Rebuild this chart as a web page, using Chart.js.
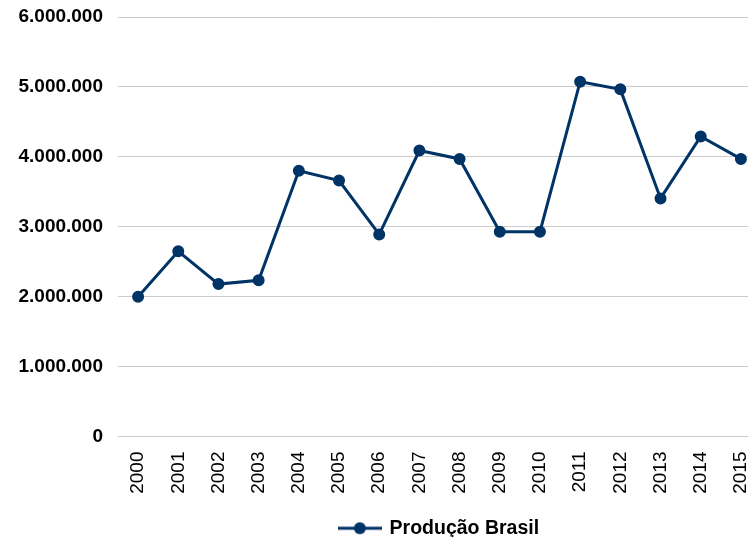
<!DOCTYPE html>
<html>
<head>
<meta charset="utf-8">
<script src="https://cdn.jsdelivr.net/npm/chart.js@4/dist/chart.umd.min.js"></script>
<style>
  html, body { margin: 0; padding: 0; background: #fff; overflow: hidden; width: 748px; height: 537px; }
  #wrap { position: absolute; left: 0; top: 0; width: 768px; height: 548px; }
</style>
</head>
<body>
<div id="wrap"><canvas id="c"></canvas></div>
<script>
const years = ['2000','2001','2002','2003','2004','2005','2006','2007','2008','2009','2010','2011','2012','2013','2014','2015'];
const producaoBrasil = [2000000, 2650000, 2180000, 2235000, 3800000, 3660000, 2890000, 4090000, 3970000, 2930000, 2930000, 5075000, 4965000, 3405000, 4290000, 3970000];
const seriesLabel = 'Produção Brasil';
const yTicks = [0, 1000000, 2000000, 3000000, 4000000, 5000000, 6000000];

const navy = '#003366';
const FONT = '"Liberation Sans", Arial, sans-serif';

function fmt(v) {
  return String(Math.round(v)).replace(/\B(?=(\d{3})+(?!\d))/g, '.');
}

// legend marker: line with a dot
const mk = document.createElement('canvas');
mk.width = 44; mk.height = 14;
(function () {
  const g = mk.getContext('2d');
  g.strokeStyle = navy; g.lineWidth = 3;
  g.beginPath(); g.moveTo(0, 7); g.lineTo(44, 7); g.stroke();
  g.fillStyle = navy;
  g.beginPath(); g.arc(22, 7, 6, 0, Math.PI * 2); g.fill();
})();

new Chart(document.getElementById('c'), {
  type: 'line',
  data: {
    labels: years,
    datasets: [{
      label: seriesLabel,
      data: producaoBrasil,
      borderColor: navy,
      backgroundColor: navy,
      borderWidth: 3,
      pointRadius: 5,
      pointBorderWidth: 2,
      pointBackgroundColor: navy,
      pointBorderColor: navy,
      tension: 0,
      fill: false
    }]
  },
  options: {
    responsive: true,
    maintainAspectRatio: false,
    animation: false,
    layout: { padding: { top: 17, left: 0, right: 0, bottom: 0 } },
    plugins: {
      tooltip: { enabled: false },
      legend: {
        position: 'bottom',
        fullSize: false,
        labels: {
          usePointStyle: true,
          pointStyle: mk,
          pointStyleWidth: 40,
          padding: 10,
          color: '#000',
          font: { family: FONT, size: 19.5, weight: 'bold' }
        }
      }
    },
    scales: {
      x: {
        offset: true,
        grid: { display: false, drawTicks: false },
        border: { display: false },
        afterFit: (s) => { s.height = 72; s.paddingLeft = 0; s.paddingRight = 0; },
        ticks: {
          autoSkip: false,
          minRotation: 90,
          maxRotation: 90,
          padding: 15,
          color: '#000',
          font: { family: FONT, size: 19 }
        }
      },
      y: {
        min: 0,
        max: 6000000,
        afterFit: (s) => { s.width = 118; s.paddingTop = 0; s.paddingBottom = 0; },
        afterBuildTicks: (s) => { s.ticks = yTicks.map(v => ({ value: v })); },
        grid: { color: '#cccccc', lineWidth: 1, drawTicks: false },
        border: { display: false },
        ticks: {
          padding: 15,
          color: '#000',
          font: { family: FONT, size: 19, weight: 'bold' },
          callback: (v) => fmt(v)
        }
      }
    }
  }
});
</script>
</body>
</html>
